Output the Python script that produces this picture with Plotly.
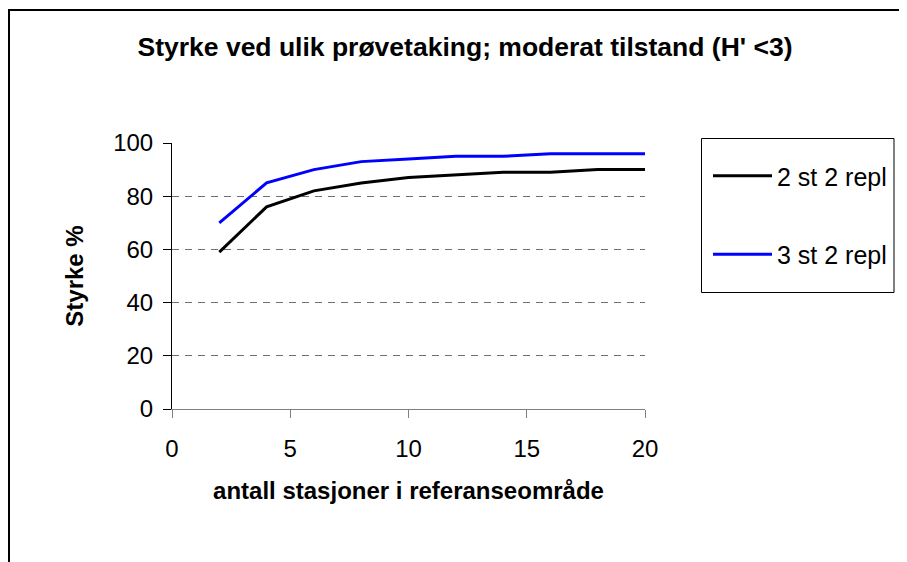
import plotly.graph_objects as go

stations = [2, 4, 6, 8, 10, 12, 14, 16, 18, 20]
series_2st = [59, 76, 82, 85, 87, 88, 89, 89, 90, 90]
series_3st = [70, 85, 90, 93, 94, 95, 95, 96, 96, 96]
names = ["2 st 2 repl", "3 st 2 repl"]
colors = ["#000000", "#0000FF"]
title_text = "Styrke ved ulik prøvetaking; moderat tilstand (H' <3)"
x_title = "antall stasjoner i referanseområde"
y_title = "Styrke %"

OFF = 8  # default page body margin
W, H = 907 - OFF, 562 - OFF
ML, MR, MT, MB = 164, 262, 135, 153
PW, PH = W - ML - MR, H - MT - MB

def px_x(p):  # page pixel -> paper x
    return (p - OFF - ML) / PW

def px_y(p):  # page pixel -> paper y
    return (H - MB - (p - OFF)) / PH

font = "Liberation Sans, Arial, sans-serif"

fig = go.Figure()
for vals, name, col in zip([series_2st, series_3st], names, colors):
    fig.add_trace(go.Scatter(x=stations, y=vals, mode="lines", name=name,
                             line=dict(color=col, width=3), legendgroup=name))

fig.update_layout(
    width=W, height=H,
    margin=dict(l=ML, r=MR, t=MT, b=MB, autoexpand=False),
    paper_bgcolor="white", plot_bgcolor="white",
    font=dict(family=font, color="black", size=24),
    title=dict(text="<b>" + title_text + "</b>", x=(465 - OFF) / W, xanchor="center",
               y=1 - (47 - OFF) / H, yanchor="middle", yref="container",
               font=dict(size=26.5, family=font)),
    showlegend=True,
    legend=dict(x=px_x(708), y=px_y(153), xanchor="left", yanchor="top",
                bgcolor="rgba(0,0,0,0)", borderwidth=0,
                font=dict(size=25, family=font), itemwidth=59,
                traceorder="grouped", tracegroupgap=43),
    xaxis=dict(range=[0, 20], tickvals=[0, 5, 10, 15, 20], showgrid=False,
               zeroline=False, showline=True, linecolor="#808080", linewidth=1,
               ticks="outside", ticklen=8, tickcolor="#808080",
               ticklabelstandoff=10,
               title=dict(text="<b>" + x_title + "</b>", standoff=21,
                          font=dict(size=24, family=font))),
    yaxis=dict(range=[0, 100], tickvals=[0, 20, 40, 60, 80, 100], showgrid=True,
               gridcolor="#707070", griddash="7px,6px", gridwidth=1,
               zeroline=False, showline=True, linecolor="black", linewidth=1,
               ticks="outside", ticklen=8, tickcolor="black",
               ticklabelstandoff=5,
               title=dict(text="<b>" + y_title + "</b>", standoff=22,
                          font=dict(size=24, family=font))),
    shapes=[
        dict(type="rect", xref="paper", yref="paper",
             x0=px_x(701.5), x1=px_x(894), y0=px_y(292.5), y1=px_y(138.5),
             line=dict(color="black", width=1), fillcolor="rgba(0,0,0,0)", layer="below"),
        dict(type="line", xref="paper", yref="paper",
             x0=px_x(8), x1=px_x(912), y0=px_y(10), y1=px_y(10),
             line=dict(color="black", width=2)),
        dict(type="line", xref="paper", yref="paper",
             x0=px_x(9), x1=px_x(9), y0=px_y(10), y1=px_y(570),
             line=dict(color="black", width=2)),
    ],
)

fig.write_html("out.html")
